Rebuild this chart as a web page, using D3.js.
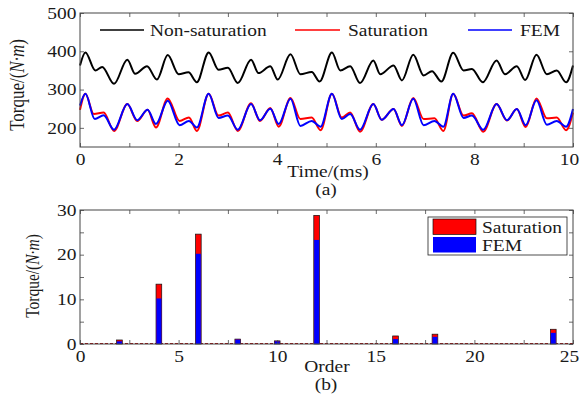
<!DOCTYPE html>
<html><head><meta charset="utf-8">
<script src="https://cdn.jsdelivr.net/npm/d3@7"></script>
<style>
body{margin:0;background:#fff;}
text{font-family:"Liberation Serif","Times New Roman",serif;fill:#1a1a1a;}
</style></head>
<body>
<svg id="c" width="580" height="398"></svg>
<script>
// ---------- data (a): torque waveforms ----------
const tNonSat = [0,0.11,0.31,0.45,0.69,0.96,1.12,1.36,1.56,1.78,2.0,2.2,2.37,2.61,2.81,3.0,3.2,3.47,3.62,3.86,4.01,4.27,4.47,4.7,4.86,5.11,5.28,5.48,5.68,5.95,6.09,6.36,6.53,6.76,6.97,7.14,7.33,7.57,7.78,7.95,8.17,8.45,8.62,8.86,9.03,9.26,9.47,9.67,9.86,10];
const nonSat  = [363,397,350,359,315,378,341,361,326,390,340,345,319,397,352,357,317,378,343,361,326,392,340,346,321,397,350,361,317,376,340,363,324,391,337,348,321,396,350,354,319,376,340,361,325,391,340,350,319,363];
const tSat = [0,0.11,0.28,0.48,0.69,0.96,1.16,1.37,1.54,1.78,2.02,2.21,2.37,2.61,2.81,3.0,3.2,3.47,3.65,3.86,4.03,4.27,4.47,4.7,4.88,5.11,5.31,5.48,5.68,5.95,6.12,6.36,6.53,6.76,6.97,7.19,7.37,7.57,7.78,7.95,8.18,8.45,8.66,8.86,9.04,9.26,9.47,9.67,9.86,10];
const sat  = [247,289,236,240,192,262,218,247,201,277,218,227,192,289,232,240,192,264,218,252,203,278,223,227,194,289,227,240,190,262,221,249,205,278,223,225,192,289,232,238,190,262,219,249,202,277,225,227,194,240];
const tFem = [0,0.11,0.3,0.48,0.69,0.96,1.16,1.37,1.54,1.78,2.02,2.21,2.37,2.61,2.81,3.0,3.2,3.47,3.65,3.86,4.03,4.27,4.47,4.7,4.88,5.11,5.31,5.48,5.68,5.95,6.12,6.36,6.53,6.76,6.97,7.19,7.37,7.57,7.78,7.95,8.18,8.45,8.66,8.86,9.04,9.26,9.47,9.67,9.86,10];
const fem  = [258,289,223,233,195,262,220,247,210,271,207,218,201,289,226,232,195,262,220,250,210,276,205,218,203,289,223,236,195,262,221,249,207,276,207,218,203,289,226,232,195,262,220,249,207,272,208,218,203,249];
const xTicksA = [0,2,4,6,8,10];
const yTicksA = [200,300,400,500];
const legendA = ["Non-saturation","Saturation","FEM"];

// ---------- data (b): harmonic spectrum ----------
const orders   = [2,4,6,8,10,12,16,18,24];
const satAmp   = [0.9,13.4,24.6,1.1,0.7,28.8,1.8,2.2,3.3];
const femAmp   = [0.6,10.2,20.2,1.0,0.6,23.3,1.1,1.6,2.5];
const xTicksB = [0,5,10,15,20,25];
const yTicksB = [0,10,20,30];
const legendB = ["Saturation","FEM"];

const colors = {nonSat:"#000000", sat:"#ff0000", fem:"#0000ff"};
const svg = d3.select("#c");
const FS = 16.5, SX = 1.18;

function txt(g, x, y, s, anchor, size){
  return g.append("text").attr("transform",`translate(${x},${y}) scale(${SX},1)`)
    .attr("text-anchor",anchor||"start").attr("font-size",size||FS).text(s);
}

function frame(g, x, y, xt, xtMinor, yt, ytMinor){
  const [x0,x1] = x.range(), [y0,y1] = y.range();
  g.append("g").attr("transform",`translate(0,${y0})`)
    .call(d3.axisBottom(x).tickValues(xtMinor).tickSize(-4).tickFormat(""))
    .call(s=>s.select(".domain").remove());
  g.append("g").attr("transform",`translate(0,${y1})`)
    .call(d3.axisTop(x).tickValues(xtMinor).tickSize(-4).tickFormat(""))
    .call(s=>s.select(".domain").remove());
  g.append("g").attr("transform",`translate(${x0},0)`)
    .call(d3.axisLeft(y).tickValues(ytMinor).tickSize(-4).tickFormat(""))
    .call(s=>s.select(".domain").remove());
  g.append("g").attr("transform",`translate(${x1},0)`)
    .call(d3.axisRight(y).tickValues(ytMinor).tickSize(-4).tickFormat(""))
    .call(s=>s.select(".domain").remove());
  g.selectAll(".tick line").attr("stroke","#444").attr("stroke-width",0.8);
  const bx = g.append("g").attr("transform",`translate(0,${y0})`)
    .call(d3.axisBottom(x).tickValues(xt).tickSize(0).tickPadding(6));
  bx.select(".domain").remove();
  bx.selectAll("text").attr("font-size",FS).attr("font-family","Liberation Serif").attr("fill","#1a1a1a")
    .attr("transform",(d,i,n)=> i===n.length-1 ? `translate(-4,0) scale(${SX},1)` : `scale(${SX},1)`);
  const ly = g.append("g").attr("transform",`translate(${x0},0)`)
    .call(d3.axisLeft(y).tickValues(yt).tickSize(0).tickPadding(3));
  ly.select(".domain").remove();
  ly.selectAll("text").attr("font-size",FS).attr("font-family","Liberation Serif").attr("fill","#1a1a1a")
    .attr("transform",`scale(${SX},1)`);
  g.append("rect").attr("x",x0).attr("y",y1).attr("width",x1-x0).attr("height",y0-y1)
    .attr("fill","none").attr("stroke","#444").attr("stroke-width",1);
}

function ylabel(g, cx, cy, size){
  const t = g.append("text").attr("transform",`translate(${cx},${cy}) scale(${SX},1) rotate(-90)`)
    .attr("text-anchor","middle").attr("font-size",size);
  t.append("tspan").text("Torque/(");
  t.append("tspan").attr("font-style","italic").text("N·m");
  t.append("tspan").text(")");
}

// ================= (a) =================
const xa = d3.scaleLinear().domain([0,10]).range([80,573]);
const ya = d3.scaleLinear().domain([150,500]).range([147,13]);
const ga = svg.append("g");
const line = (ts, vs) => d3.line().x((d,i)=>xa(ts[i])).y(d=>ya(d)).curve(d3.curveMonotoneX)(vs);
ga.append("path").attr("d",line(tNonSat,nonSat)).attr("fill","none").attr("stroke",colors.nonSat).attr("stroke-width",2);
ga.append("path").attr("d",line(tSat,sat)).attr("fill","none").attr("stroke",colors.sat).attr("stroke-width",2);
ga.append("path").attr("d",line(tFem,fem)).attr("fill","none").attr("stroke",colors.fem).attr("stroke-width",2);
frame(ga, xa, ya, xTicksA, d3.range(0,11,1), yTicksA, yTicksA);
ylabel(ga, 24, 85, 17);
txt(ga, 328, 177, "Time/(ms)", "middle");
txt(ga, 326, 195, "(a)", "middle");
const legA = [{k:"nonSat",x1:100,x2:144,tx:150},{k:"sat",x1:295,x2:340,tx:348},{k:"fem",x1:468,x2:512,tx:520}];
legA.forEach((l,i)=>{
  ga.append("line").attr("x1",l.x1).attr("x2",l.x2).attr("y1",30).attr("y2",30)
    .attr("stroke",colors[l.k]).attr("stroke-width",1.6);
  txt(ga, l.tx, 35.5, legendA[i]);
});

// ================= (b) =================
const xb = d3.scaleLinear().domain([0,25]).range([80,573]);
const yb = d3.scaleLinear().domain([0,30]).range([344,210]);
const gb = svg.append("g");
const bw = xb(0.29)-xb(0);
gb.append("line").attr("x1",xb(0)).attr("x2",xb(25)).attr("y1",yb(0)-0.5).attr("y2",yb(0)-0.5)
  .attr("stroke","#a00").attr("stroke-width",1).attr("stroke-dasharray","3,2");
gb.selectAll(".bs").data(orders).enter().append("rect")
  .attr("x",d=>xb(d)-bw/2).attr("width",bw)
  .attr("y",(d,i)=>yb(satAmp[i])).attr("height",(d,i)=>yb(0)-yb(satAmp[i]))
  .attr("fill",colors.sat).attr("stroke","#111").attr("stroke-width",0.7);
gb.selectAll(".bf").data(orders).enter().append("rect")
  .attr("x",d=>xb(d)-bw/2+0.35).attr("width",bw-0.7)
  .attr("y",(d,i)=>yb(femAmp[i])).attr("height",(d,i)=>yb(0)-yb(femAmp[i]))
  .attr("fill",colors.fem);
frame(gb, xb, yb, xTicksB, d3.range(0,25.1,2.5), yTicksB, d3.range(0,31,5));
ylabel(gb, 39, 276, 15.5);
txt(gb, 327, 372, "Order", "middle");
txt(gb, 326, 390, "(b)", "middle");
gb.append("rect").attr("x",428).attr("y",217).attr("width",139).attr("height",38)
  .attr("fill","#fff").attr("stroke","#222").attr("stroke-width",0.8);
[colors.sat, colors.fem].forEach((c,i)=>{
  gb.append("rect").attr("x",433).attr("y",219+i*18).attr("width",43).attr("height",15.5)
    .attr("fill",c).attr("stroke",i===0?"#111":"none").attr("stroke-width",0.7);
  txt(gb, 482, 232.5+i*18, legendB[i]);
});
</script>
</body></html>
